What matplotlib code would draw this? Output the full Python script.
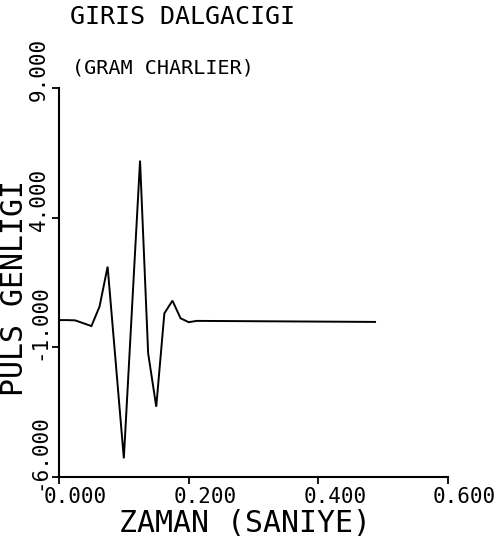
import matplotlib
matplotlib.use("Agg")
import matplotlib.pyplot as plt
from matplotlib.transforms import offset_copy

# Data
time_s = [0.0, 0.0125, 0.025, 0.05, 0.0625, 0.075, 0.1, 0.125, 0.1375, 0.15,
          0.1625, 0.175, 0.1875, 0.2, 0.2125, 0.4875]
amplitude = [0.05, 0.05, 0.04, -0.18, 0.57, 2.11, -5.28, 6.20, -1.23, -3.29,
             0.31, 0.80, 0.12, -0.03, 0.02, -0.02]

xticks = [0.0, 0.2, 0.4, 0.6]
xtick_labels = ["0.000", "0.200", "0.400", "0.600"]
yticks = [-6.0, -1.0, 4.0, 9.0]
ytick_labels = ["-6.000", "-1.000", "4.000", "9.000"]

title = "GIRIS DALGACIGI"
subtitle = "(GRAM CHARLIER)"
xlabel = "ZAMAN (SANIYE)"
ylabel = "PULS GENLIGI"

W, H = 501, 541
fig = plt.figure(figsize=(W / 100, H / 100), dpi=100)
fig.patch.set_facecolor("white")

left, right, top, bottom = 59, 448, 88, 477
ax = fig.add_axes([left / W, 1 - bottom / H, (right - left) / W, (bottom - top) / H])
ax.set_xlim(0, 0.6)
ax.set_ylim(-6, 9)
ax.plot(time_s, amplitude, color="black", lw=1.4, solid_joinstyle="miter")

for s in ["top", "right"]:
    ax.spines[s].set_visible(False)
for s in ["left", "bottom"]:
    ax.spines[s].set_linewidth(1.5)
    ax.spines[s].set_color("black")

ax.set_xticks(xticks)
ax.set_yticks(yticks)
ax.set_xticklabels([])
ax.set_yticklabels([])
ax.tick_params(direction="out", length=5, width=1.3, color="black")

mono = "DejaVu Sans Mono"

# x tick labels: left aligned, starting a bit left of the tick
for xv, lab in zip(xticks, xtick_labels):
    tr = offset_copy(ax.get_xaxis_transform(), fig=fig, x=-15, y=-20, units="dots")
    ax.text(xv, 0, lab, transform=tr, ha="left", va="center", family=mono,
            fontsize=15, color="black", clip_on=False)

# y tick labels: rotated, starting slightly below the tick and reading upward
for yv, lab in zip(yticks, ytick_labels):
    tr = offset_copy(ax.get_yaxis_transform(), fig=fig, x=-20, y=-13, units="dots")
    ax.text(0, yv, lab, transform=tr, ha="center", va="bottom", rotation=90,
            family=mono, fontsize=15, color="black", clip_on=False)

fig.text(245 / W, 1 - 523 / H, xlabel, ha="center", va="center", family=mono,
         fontsize=21.5, color="black")
fig.text(15 / W, 1 - 288 / H, ylabel, ha="center", va="center", rotation=90,
         family=mono, fontsize=21.5, color="black")
fig.text(70 / W, 1 - 17 / H, title, ha="left", va="center", family=mono,
         fontsize=18, color="black")
fig.text(72 / W, 1 - 68 / H, subtitle, ha="left", va="center", family=mono,
         fontsize=14.5, color="black")

fig.savefig("out.png", dpi=100, facecolor="white")
